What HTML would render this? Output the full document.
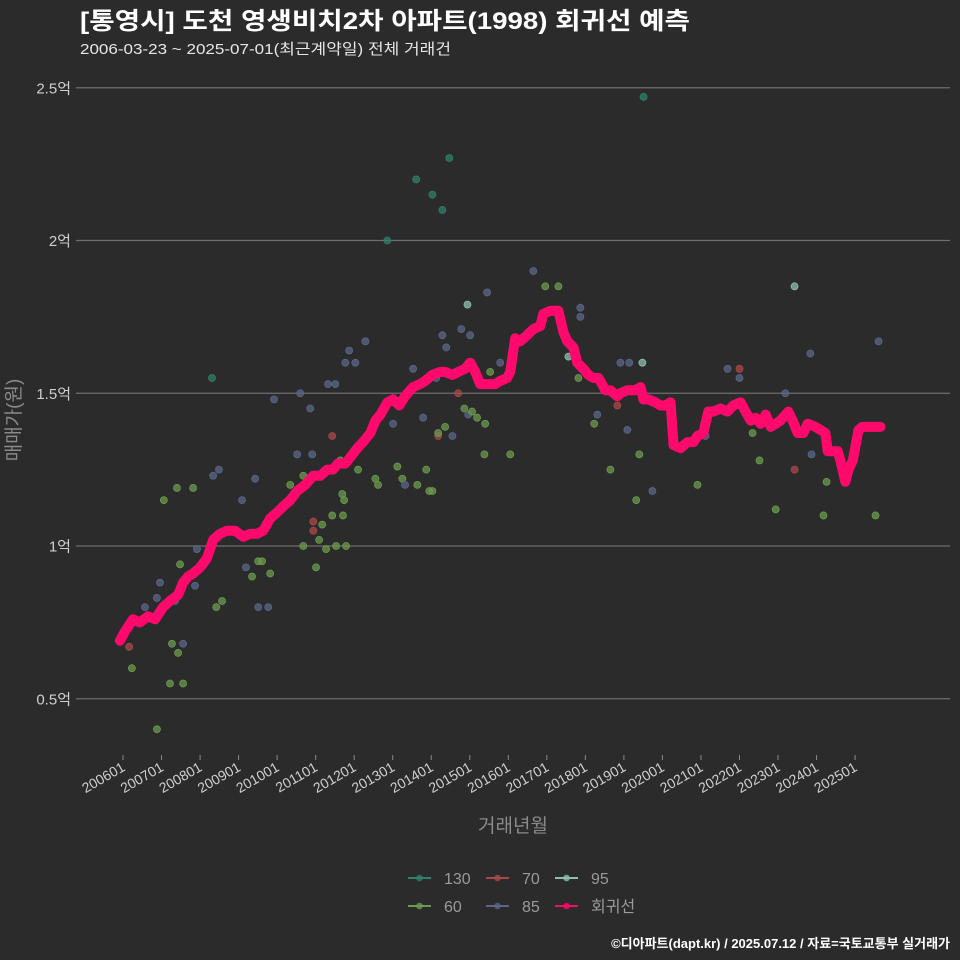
<!DOCTYPE html>
<html><head><meta charset="utf-8">
<style>
html,body{margin:0;padding:0;background:#2b2b2b;}
svg{display:block;font-family:"Liberation Sans","Noto Sans CJK KR",sans-serif;}
</style></head>
<body>
<svg id="chart" width="960" height="960" viewBox="0 0 960 960">
<rect width="960" height="960" fill="#2b2b2b"/>
<text x="80" y="29" font-size="24" font-weight="bold" fill="#ffffff" textLength="610" lengthAdjust="spacingAndGlyphs">[통영시] 도천 영생비치2차 아파트(1998) 회귀선 예측</text>
<text x="80" y="54" font-size="15" fill="#e6e6e6" textLength="371" lengthAdjust="spacingAndGlyphs">2006-03-23 ~ 2025-07-01(최근계약일) 전체 거래건</text>
<g id="grid"></g>
<g id="points"></g>
<g id="line"></g>
<g id="xaxis"></g>
<text x="20" y="420" font-size="19" fill="#8a8a8a" text-anchor="middle" transform="rotate(-90 20 420)">매매가(원)</text>
<text x="513" y="832" font-size="19" fill="#8a8a8a" text-anchor="middle">거래년월</text>
<g id="legend"></g>
<text x="950" y="948" font-size="13" font-weight="bold" fill="#ffffff" text-anchor="end">©디아파트(dapt.kr) / 2025.07.12 / 자료=국토교통부 실거래가</text>
</svg>
<script>
const yTicks = [0.5, 1, 1.5, 2, 2.5];
const yTickLabels = ["0.5억", "1억", "1.5억", "2억", "2.5억"];
const xTickYears = [2006,2007,2008,2009,2010,2011,2012,2013,2014,2015,2016,2017,2018,2019,2020,2021,2022,2023,2024,2025];
const xTickLabels = ["200601","200701","200801","200901","201001","201101","201201","201301","201401","201501","201601","201701","201801","201901","202001","202101","202201","202301","202401","202501"];
const categories = ["130","70","95","60","85"];
const categoryColors = {"130":"#2f7f6c","70":"#a84848","95":"#8ebfae","60":"#6b9a4e","85":"#5b6688"};
const ptTime = [2006.16,2006.23,2006.57,2006.88,2006.88,2006.96,2007.06,2007.22,2007.27,2007.35,2007.40,2007.43,2007.48,2007.56,2007.56,2007.82,2007.87,2007.92,2008.31,2008.34,2008.42,2008.49,2008.57,2009.09,2009.19,2009.35,2009.43,2009.51,2009.51,2009.61,2009.77,2009.82,2009.92,2010.34,2010.52,2010.60,2010.68,2010.68,2010.86,2010.91,2010.94,2010.94,2011.01,2011.09,2011.17,2011.27,2011.32,2011.43,2011.43,2011.51,2011.53,2011.64,2011.69,2011.71,2011.74,2011.77,2011.79,2011.87,2012.03,2012.10,2012.29,2012.55,2012.62,2012.86,2013.01,2013.12,2013.25,2013.32,2013.53,2013.61,2013.64,2013.79,2013.87,2013.95,2014.03,2014.03,2014.13,2014.18,2014.18,2014.29,2014.29,2014.36,2014.39,2014.47,2014.55,2014.70,2014.78,2014.86,2014.94,2014.96,2015.01,2015.06,2015.19,2015.38,2015.40,2015.45,2015.53,2015.79,2016.05,2016.65,2016.96,2017.30,2017.56,2017.82,2017.87,2017.87,2018.23,2018.31,2018.65,2018.83,2018.91,2019.09,2019.14,2019.32,2019.40,2019.48,2019.51,2019.74,2020.91,2021.12,2021.69,2022.00,2022.00,2022.34,2022.52,2022.94,2023.19,2023.43,2023.43,2023.84,2023.87,2024.18,2024.26,2025.53,2025.61];
const ptValue = [0.67,0.60,0.80,0.40,0.83,0.88,1.15,0.55,0.68,0.82,1.19,0.65,0.94,0.55,0.68,1.19,0.87,0.99,1.55,1.23,0.80,1.25,0.82,1.15,0.93,0.90,1.22,0.95,0.80,0.95,0.80,0.91,1.48,1.20,1.30,1.50,1.23,1.00,1.45,1.30,1.08,1.05,0.93,1.02,1.07,0.99,1.53,1.10,1.36,1.53,1.00,1.28,1.17,1.10,1.15,1.60,1.00,1.64,1.60,1.25,1.67,1.22,1.20,2.00,1.40,1.26,1.22,1.20,1.58,2.20,1.20,1.42,1.25,1.18,2.15,1.18,1.55,1.36,1.37,2.10,1.69,1.39,1.65,2.27,1.36,1.50,1.71,1.45,1.79,1.43,1.69,1.44,1.42,1.30,1.40,1.83,1.57,1.60,1.30,1.90,1.85,1.85,1.62,1.55,1.78,1.75,1.40,1.43,1.25,1.46,1.60,1.38,1.60,1.15,1.30,1.60,2.47,1.18,1.20,1.36,1.58,1.58,1.55,1.37,1.28,1.12,1.50,1.85,1.25,1.63,1.30,1.10,1.21,1.10,1.67];
const ptCategory = ["70","60","85","60","85","85","60","60","60","85","60","60","60","60","85","60","85","85","130","85","60","85","60","85","85","60","85","60","85","60","85","60","85","60","85","85","60","60","85","85","70","70","60","60","60","60","85","60","70","85","60","60","60","60","60","85","60","85","85","60","85","60","60","130","85","60","60","85","85","130","60","85","60","60","130","60","85","70","60","130","85","60","85","130","85","70","85","60","95","85","85","60","60","60","60","85","60","85","60","85","60","60","95","60","85","85","60","85","60","70","85","85","85","60","60","95","130","85","60","85","85","70","85","60","60","60","85","95","70","85","85","60","60","60","85"];
const lineTime = [2005.92,2006.05,2006.26,2006.44,2006.65,2006.83,2007.04,2007.22,2007.43,2007.56,2007.69,2007.82,2008.00,2008.18,2008.34,2008.52,2008.70,2008.91,2009.12,2009.30,2009.48,2009.64,2009.82,2010.00,2010.16,2010.34,2010.52,2010.73,2010.94,2011.12,2011.30,2011.45,2011.58,2011.77,2011.90,2012.08,2012.23,2012.42,2012.55,2012.68,2012.86,2013.01,2013.17,2013.32,2013.53,2013.71,2013.84,2014.03,2014.23,2014.36,2014.55,2014.70,2014.88,2015.01,2015.14,2015.27,2015.40,2015.53,2015.66,2015.79,2015.97,2016.05,2016.18,2016.31,2016.49,2016.65,2016.83,2016.91,2017.09,2017.30,2017.43,2017.53,2017.69,2017.79,2017.95,2018.08,2018.21,2018.34,2018.52,2018.65,2018.83,2018.91,2019.09,2019.30,2019.43,2019.51,2019.64,2019.82,2019.95,2020.08,2020.21,2020.29,2020.47,2020.65,2020.81,2020.91,2021.06,2021.19,2021.32,2021.51,2021.69,2021.84,2022.03,2022.16,2022.29,2022.42,2022.55,2022.68,2022.81,2022.94,2023.06,2023.27,2023.38,2023.51,2023.66,2023.77,2023.97,2024.10,2024.23,2024.29,2024.55,2024.62,2024.75,2024.83,2024.94,2025.09,2025.19,2025.40,2025.66];
const lineValue = [0.69,0.72,0.76,0.75,0.77,0.76,0.80,0.82,0.84,0.88,0.90,0.91,0.93,0.96,1.02,1.04,1.05,1.05,1.03,1.04,1.04,1.05,1.09,1.11,1.13,1.15,1.18,1.20,1.23,1.23,1.25,1.25,1.27,1.27,1.29,1.32,1.34,1.37,1.41,1.43,1.47,1.48,1.46,1.49,1.52,1.53,1.54,1.56,1.57,1.57,1.56,1.57,1.58,1.60,1.57,1.53,1.53,1.53,1.53,1.54,1.55,1.57,1.68,1.67,1.69,1.71,1.72,1.76,1.77,1.77,1.70,1.67,1.65,1.60,1.58,1.56,1.55,1.55,1.51,1.51,1.49,1.50,1.51,1.51,1.52,1.48,1.48,1.47,1.46,1.46,1.47,1.33,1.32,1.34,1.34,1.36,1.37,1.44,1.44,1.45,1.44,1.46,1.47,1.44,1.41,1.42,1.40,1.43,1.39,1.40,1.41,1.44,1.41,1.37,1.37,1.40,1.39,1.38,1.37,1.31,1.31,1.28,1.21,1.25,1.28,1.38,1.39,1.39,1.39];

const NS = "http://www.w3.org/2000/svg";
const X0 = 123, XPY = 38.53, Y1 = 546, YPU = 305.5;
function xScale(t){ return X0 + (t - 2006) * XPY; }
function yScale(v){ return Y1 - (v - 1) * YPU; }
function mk(tag, attrs, parent){ const e = document.createElementNS(NS, tag); for (const k in attrs) e.setAttribute(k, attrs[k]); parent.appendChild(e); return e; }

const grid = document.getElementById("grid");
yTicks.forEach((v, i) => {
  const y = yScale(v);
  const gl = mk("line", {x1:76, x2:950, y1:y, y2:y, stroke:"#6e6e6e", "stroke-width":1.2}, grid);
  
  
  const t = mk("text", {x:71, y:y+5.5, "font-size":15, fill:"#cfcfcf", "text-anchor":"end"}, grid);
  t.textContent = yTickLabels[i];
  
  
});

const pts = document.getElementById("points");
ptTime.forEach((t, i) => {
  const c = mk("circle", {cx:xScale(t), cy:yScale(ptValue[i]), r:3.5, fill:categoryColors[ptCategory[i]], "fill-opacity":0.75, stroke:categoryColors[ptCategory[i]], "stroke-width":0.8}, pts);
  
  
});

const lg = document.getElementById("line");
const d = lineTime.map((t, i) => (i ? "L" : "M") + xScale(t).toFixed(1) + " " + yScale(lineValue[i]).toFixed(1)).join(" ");
const path = mk("path", {d:d, fill:"none", stroke:"#ff0a6c", "stroke-width":10, "stroke-linejoin":"round", "stroke-linecap":"round"}, lg);



const xa = document.getElementById("xaxis");
xTickYears.forEach((yr, i) => {
  const x = xScale(yr);
  const tk = mk("line", {x1:x, x2:x, y1:755, y2:760, stroke:"#8a8a8a", "stroke-width":1}, xa);
  
  
  const t = mk("text", {x:x+3, y:770, "font-size":14, fill:"#cfcfcf", "text-anchor":"end", transform:"rotate(-30 " + (x+3) + " 770)"}, xa);
  t.textContent = xTickLabels[i];
  
  
});

const legendItems = [["130","#2f7f6c",408,878],["70","#a84848",486,878],["95","#8ebfae",555,878],["60","#6b9a4e",408,906],["85","#5b6688",486,906],["회귀선","#ff0a6c",555,906]];
const leg = document.getElementById("legend");
legendItems.forEach(it => {
  const g = mk("g", {}, leg);
  
  
  mk("line", {x1:it[2], x2:it[2]+23, y1:it[3], y2:it[3], stroke:it[1], "stroke-width":2}, g);
  mk("circle", {cx:it[2]+11.5, cy:it[3], r:3.3, fill:it[1], "fill-opacity":0.8}, g);
  const t = mk("text", {x:it[2]+36, y:it[3]+6, "font-size":16, fill:"#9a9a9a"}, g);
  t.textContent = it[0];
});
</script>
</body></html>
